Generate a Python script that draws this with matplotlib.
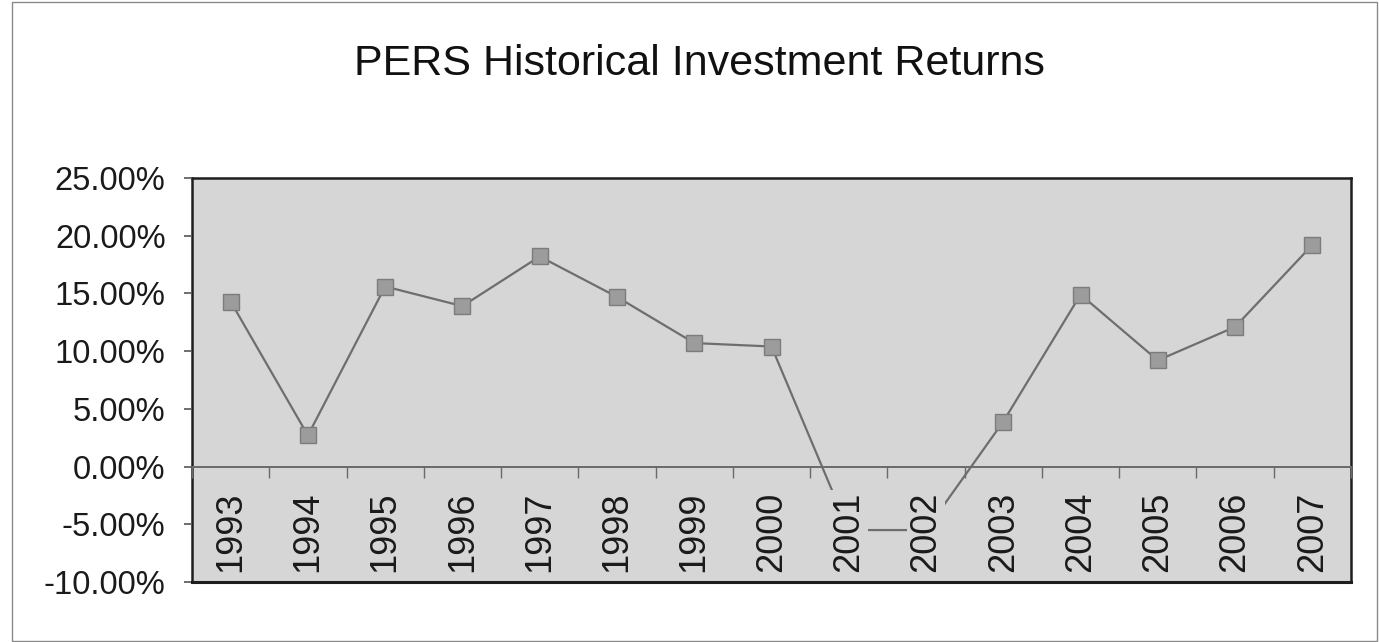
import matplotlib

matplotlib.use("Agg")
import matplotlib.pyplot as plt
from matplotlib.patches import Rectangle
from matplotlib.ticker import FixedLocator, FuncFormatter

years = ["1993", "1994", "1995", "1996", "1997", "1998", "1999", "2000",
         "2001", "2002", "2003", "2004", "2005", "2006", "2007"]
returns = [14.3, 2.7, 15.6, 13.9, 18.2, 14.7, 10.7, 10.4,
           -5.5, -5.5, 3.9, 14.9, 9.2, 12.1, 19.2]
y_ticks = [-10, -5, 0, 5, 10, 15, 20, 25]

TITLE = "PERS Historical Investment Returns"
PLOT_BG = "#d6d6d6"


def main() -> None:
    plt.rcParams["font.family"] = ["Liberation Sans", "DejaVu Sans"]

    fig = plt.figure(figsize=(13.79, 6.42), dpi=100)
    W, H = 1379, 642

    # outer chart frame
    fig.patches.append(Rectangle((12 / W, 1 / H), (1377 - 12) / W, (640 - 1) / H,
                                 transform=fig.transFigure, fill=False,
                                 edgecolor="#8a8a8a", lw=1.0))

    ax = fig.add_axes([192 / W, (H - 582) / H, (1351 - 192) / W, (582 - 178) / H])
    ax.set_facecolor(PLOT_BG)

    x = list(range(len(years)))
    ax.plot(x, returns, color="#6e6e6e", lw=1.6, marker="s", markersize=11,
            markerfacecolor="#9c9c9c", markeredgecolor="#7c7c7c", zorder=2)

    ax.set_xlim(-0.5, len(years) - 0.5)
    ax.set_ylim(y_ticks[0], y_ticks[-1])

    # y axis
    ax.yaxis.set_major_locator(FixedLocator(y_ticks))
    ax.yaxis.set_major_formatter(FuncFormatter(lambda v, _: f"{v:.2f}%"))
    ax.tick_params(axis="y", direction="out", length=6, width=1.2,
                   color="#555555", labelsize=23.5, pad=13, labelcolor="#1a1a1a")

    # category axis crosses at zero
    ax.spines["bottom"].set_position(("data", 0))
    ax.spines["bottom"].set_color("#6a6a6a")
    ax.spines["bottom"].set_linewidth(1.4)
    for side in ["left", "top", "right"]:
        ax.spines[side].set_color("#1e1e1e")
        ax.spines[side].set_linewidth(1.8)
    ax.axhline(y_ticks[0], color="#1e1e1e", lw=2.2, clip_on=False, zorder=3)

    ax.xaxis.set_major_locator(FixedLocator(x))
    ax.set_xticklabels(years, rotation=90, va="top", ha="center")
    ax.xaxis.set_minor_locator(FixedLocator([i - 0.5 for i in range(len(years) + 1)]))
    ax.tick_params(axis="x", which="major", length=0, labelsize=26, pad=18,
                   labelcolor="#1a1a1a")
    ax.tick_params(axis="x", which="minor", direction="out", length=8,
                   width=1.0, color="#6a6a6a")
    for lbl in ax.get_xticklabels():
        lbl.set_bbox(dict(facecolor=PLOT_BG, edgecolor="none", pad=1.0))
    ax.set_axisbelow(False)

    fig.text(699 / W, 1 - 64 / H, TITLE, ha="center", va="center",
             fontsize=31, color="#111111")

    fig.savefig("out.png", dpi=100)


if __name__ == "__main__":
    main()
